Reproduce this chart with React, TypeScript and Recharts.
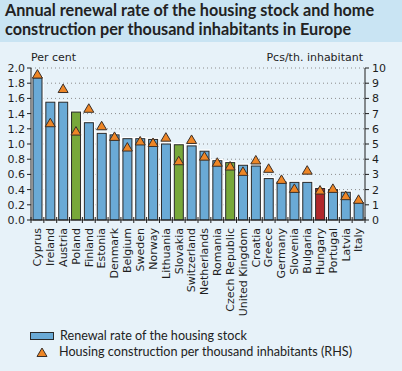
import React from "react";
import { ComposedChart, Bar, Scatter, XAxis, YAxis, CartesianGrid } from "recharts";

const countries = [
  "Cyprus", "Ireland", "Austria", "Poland", "Finland", "Estonia", "Denmark",
  "Belgium", "Sweden", "Norway", "Lithuania", "Slovakia", "Switzerland",
  "Netherlands", "Romania", "Czech Republic", "United Kingdom", "Croatia",
  "Greece", "Germany", "Slovenia", "Bulgaria", "Hungary", "Portugal", "Latvia", "Italy",
];
const renewalRate = [
  1.87, 1.55, 1.55, 1.42, 1.28, 1.14, 1.12, 1.07, 1.07, 1.06, 1.0, 0.99, 0.975,
  0.905, 0.78, 0.755, 0.72, 0.71, 0.545, 0.5, 0.495, 0.495, 0.415, 0.4, 0.365, 0.23,
];
const constructionPerThousand = [
  9.6, 6.4, 8.65, 5.85, 7.35, 6.2, 5.5, 4.8, 5.2, 5.1, 5.45, 3.9, 5.3,
  4.2, 3.8, 3.55, 3.2, 3.95, 3.4, 2.67, 2.08, 3.28, 1.97, 2.08, 1.6, 1.36,
];
const leftTicks = [0, 0.2, 0.4, 0.6, 0.8, 1.0, 1.2, 1.4, 1.6, 1.8, 2.0];
const rightTicks = [0, 1, 2, 3, 4, 5, 6, 7, 8, 9, 10];
const greenCountries = ["Poland", "Slovakia", "Czech Republic"];
const redCountries = ["Hungary"];

const data = countries.map((country, i) => ({
  country,
  renewal: renewalRate[i],
  construction: constructionPerThousand[i],
}));

const W = 402;
const H = 371;
const LEFT_W = 31;
const RIGHT_W = 37;
const TOP = 68;
const AXIS_Y = 220;
const BAND = (W - LEFT_W - RIGHT_W) / countries.length;

const BLUE = "#6aaad6";
const GREEN = "#78a83a";
const RED = "#b0282b";
const ORANGE = "#ee8626";
const INK = "#1e1e1e";
const TICK_FONT = "'DejaVu Sans', Verdana, sans-serif";
const TEXT_FONT = "Lato, 'Open Sans', sans-serif";

const barColor = (country: string) =>
  greenCountries.includes(country) ? GREEN : redCountries.includes(country) ? RED : BLUE;

const RenewalBar = (props: any) => {
  const { x, y, width, height, payload } = props;
  if (!height) return null;
  return (
    <g>
      <rect x={x - 1} y={y - 1} width={width + 2} height={height + 1} fill="none" stroke="#ffffff" strokeWidth={1.5} />
      <rect x={x} y={y} width={width} height={height} fill={barColor(payload.country)} stroke="#2a2a2a" strokeWidth={1} />
    </g>
  );
};

const Triangle = (props: any) => {
  const { cx, cy } = props;
  if (cx == null || cy == null) return null;
  return (
    <polygon
      points={`${cx - 5},${cy + 4} ${cx + 5},${cy + 4} ${cx},${cy - 4.5}`}
      fill={ORANGE}
      stroke="#3a2f28"
      strokeWidth={1}
    />
  );
};

const CountryTick = (props: any) => {
  const { x, y, payload, index } = props;
  const half = BAND / 2;
  return (
    <g>
      <line x1={x - half} x2={x - half} y1={AXIS_Y - 3} y2={AXIS_Y + 3} stroke={INK} />
      {index === countries.length - 1 && (
        <line x1={x + half} x2={x + half} y1={AXIS_Y - 3} y2={AXIS_Y + 3} stroke={INK} />
      )}
      <text
        x={x}
        y={y}
        dy="0.35em"
        transform={`rotate(-90, ${x}, ${y})`}
        textAnchor="end"
        fill={INK}
        fontSize={11}
        fontFamily={TICK_FONT}
      >
        {payload.value}
      </text>
    </g>
  );
};

export default function App() {
  return (
    <div
      style={{
        position: "absolute",
        left: 0,
        top: 0,
        width: W,
        height: H,
        background: "#e7f2f9",
        overflow: "hidden",
      }}
    >
      {/* title band */}
      <div
        style={{
          position: "absolute",
          left: 0,
          top: 0,
          width: W,
          height: 42,
          background: "#c9e4f3",
          fontFamily: TEXT_FONT,
          fontWeight: 700,
          fontSize: 16.2,
          color: "#222",
        }}
      >
        <div style={{ position: "absolute", left: 5, top: 0, lineHeight: "20px" }}>
          Annual renewal rate of the housing stock and home
        </div>
        <div style={{ position: "absolute", left: 5, top: 20, lineHeight: "17px" }}>
          construction per thousand inhabitants in Europe
        </div>
      </div>

      <div style={{ position: "absolute", left: 0, top: 0 }}>
        <ComposedChart
          width={W}
          height={H}
          data={data}
          margin={{ top: TOP, right: 0, left: 0, bottom: 0 }}
          barSize={9}
        >
          <CartesianGrid
            yAxisId="left"
            vertical={false}
            stroke="#8c8c8c"
            strokeDasharray="1 3"
          />
          <XAxis
            dataKey="country"
            interval={0}
            height={H - AXIS_Y}
            tickSize={0}
            tickMargin={8}
            axisLine={{ stroke: INK }}
            tick={<CountryTick />}
          />
          <YAxis
            yAxisId="left"
            width={LEFT_W}
            domain={[0, 2]}
            ticks={leftTicks}
            interval={0}
            tickFormatter={(v: number) => v.toFixed(1)}
            tickSize={4}
            tickMargin={2}
            axisLine={{ stroke: INK }}
            tickLine={{ stroke: INK }}
            tick={{ fill: INK, fontSize: 11, fontFamily: TICK_FONT }}
          />
          <YAxis
            yAxisId="right"
            orientation="right"
            width={RIGHT_W}
            domain={[0, 10]}
            ticks={rightTicks}
            interval={0}
            tickSize={4}
            tickMargin={3}
            axisLine={{ stroke: INK }}
            tickLine={{ stroke: INK }}
            tick={{ fill: INK, fontSize: 11, fontFamily: TICK_FONT, textAnchor: "start" }}
          />
          <Bar yAxisId="left" dataKey="renewal" shape={<RenewalBar />} isAnimationActive={false} />
          <Scatter yAxisId="right" dataKey="construction" shape={<Triangle />} isAnimationActive={false} />
          <text x={LEFT_W} y={61} fontSize={11} fontFamily={TICK_FONT} fill={INK}>
            Per cent
          </text>
          <text x={W - RIGHT_W - 2} y={61} fontSize={11} fontFamily={TICK_FONT} fill={INK} textAnchor="end">
            Pcs/th. inhabitant
          </text>
        </ComposedChart>
      </div>

      {/* legend */}
      <div
        style={{
          position: "absolute",
          left: 30,
          top: 328,
          fontFamily: TEXT_FONT,
          fontSize: 12.6,
          color: "#222",
          lineHeight: "16px",
        }}
      >
        <div style={{ display: "flex", alignItems: "center", height: 16 }}>
          <span
            style={{
              display: "inline-block",
              width: 22,
              height: 6,
              background: BLUE,
              border: "1px solid #2a2a2a",
              marginRight: 6,
            }}
          />
          Renewal rate of the housing stock
        </div>
        <div style={{ display: "flex", alignItems: "center", height: 16 }}>
          <svg width={24} height={12} style={{ marginRight: 5 }}>
            <polygon points="7,10.5 17,10.5 12,2" fill={ORANGE} stroke="#3a2f28" strokeWidth={1} />
          </svg>
          Housing construction per thousand inhabitants (RHS)
        </div>
      </div>
    </div>
  );
}
